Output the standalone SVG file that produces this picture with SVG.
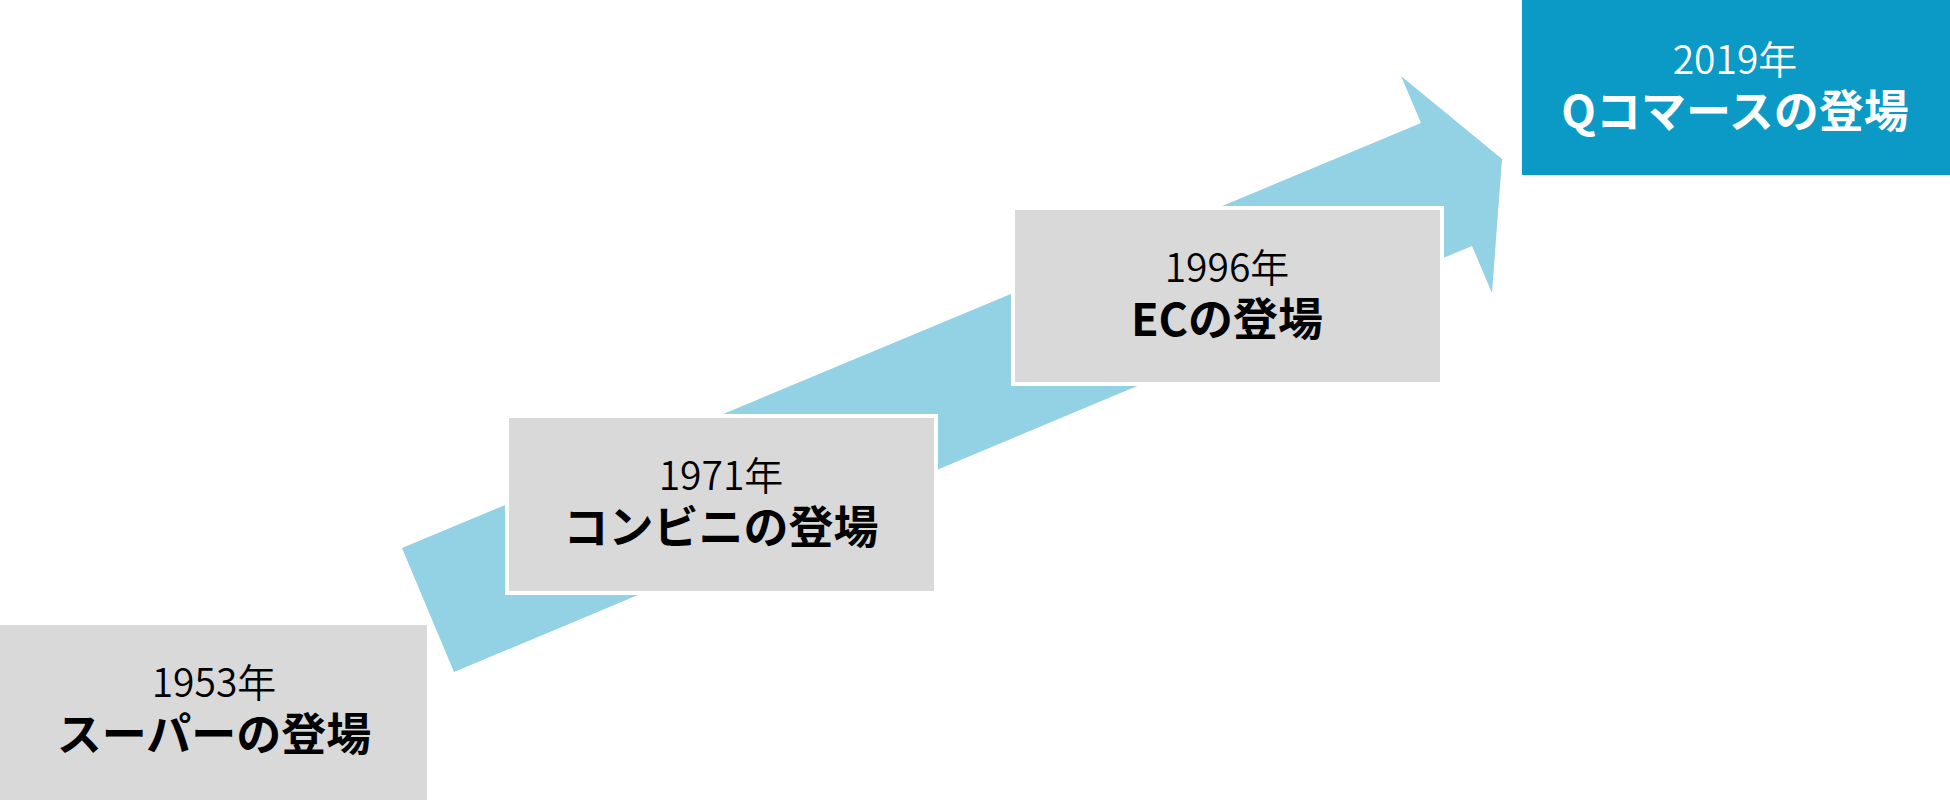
<svg xmlns="http://www.w3.org/2000/svg" width="1950" height="802" viewBox="0 0 1950 802">
  <style>
    .box { fill: #D9D9D9; stroke: #FFFFFF; stroke-width: 4; }
    .box-hl { fill: #0B9AC6; stroke: #FFFFFF; stroke-width: 4; }
    .year { font-family: "Noto Sans CJK JP", "Noto Sans", sans-serif; font-size: 39px; font-weight: 350; fill: #000000; text-anchor: middle; }
    .title { font-family: "Noto Sans CJK JP", "Noto Sans", sans-serif; font-size: 45px; font-weight: 700; fill: #000000; text-anchor: middle; }
    .hl { fill: #FFFFFF; }
    .arrow { fill: #93D1E4; }
  </style>
  <rect width="1950" height="802" fill="#FFFFFF"/>
  <g id="connectors">
    <polygon class="arrow" points="402,548 1421,123 1401,76 1502,159 1492,293 1472,246 454,672"/>
  </g>
  <g id="node-1953">
    <rect class="box" x="-4" y="623" width="433" height="179"/>
    <text class="year" x="214" y="697">1953年</text>
    <text class="title" x="214" y="751">スーパーの登場</text>
  </g>
  <g id="node-1971">
    <rect class="box" x="507" y="416" width="429" height="177"/>
    <text class="year" x="721" y="490">1971年</text>
    <text class="title" x="721" y="544">コンビニの登場</text>
  </g>
  <g id="node-1996">
    <rect class="box" x="1013" y="208" width="429" height="176"/>
    <text class="year" x="1227" y="282">1996年</text>
    <text class="title" x="1227" y="336">ECの登場</text>
  </g>
  <g id="node-2019">
    <rect class="box-hl" x="1520" y="-4" width="434" height="181"/>
    <text class="year hl" x="1735" y="74">2019年</text>
    <text class="title hl" x="1735" y="128">Qコマースの登場</text>
  </g>
</svg>
